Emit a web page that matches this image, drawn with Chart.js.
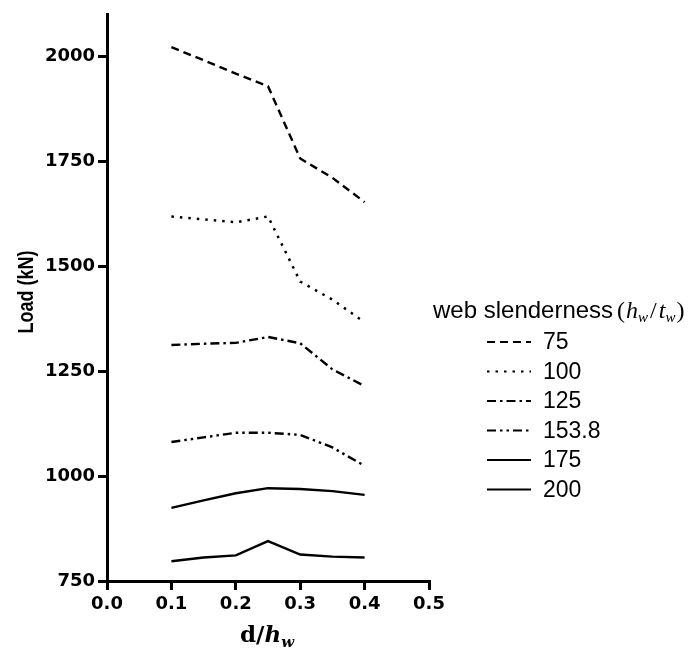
<!DOCTYPE html>
<html>
<head>
<meta charset="utf-8">
<script src="https://cdn.jsdelivr.net/npm/chart.js@4"></script>
<style>
  html, body { margin: 0; padding: 0; background: #fff; }
  #wrap { width: 699px; height: 648px; }
</style>
</head>
<body>
<div id="wrap"><canvas id="myChart" width="699" height="648"></canvas></div>
<script>
// d/hw ratios along the x axis
var ratios = [0.1, 0.15, 0.2, 0.25, 0.3, 0.35, 0.4];

// load (kN) per web slenderness
var load75 = [2021, 1990, 1958, 1928, 1756, 1710, 1652];
var load100 = [1618, 1611, 1604, 1618, 1463, 1420, 1366];
var load125 = [1312, 1315, 1317, 1331, 1316, 1254, 1214];
var load153 = [1081, 1092, 1103, 1103, 1098, 1068, 1024];
var load175 = [924, 942, 959, 971, 969, 964, 955];
var load200 = [797, 806, 811, 845, 813, 808, 806];

var seriesNames = ['75', '100', '125', '153.8', '175', '200'];
var yTicks = [750, 1000, 1250, 1500, 1750, 2000];
var xTicks = [0.0, 0.1, 0.2, 0.3, 0.4, 0.5];

function pts(values) {
    var out = [];
    values.forEach((v, i) => out.push({x: ratios[i], y: v}));
    return out;
}

var dashes = [[8, 5], [2.5, 6], [9, 4, 2.5, 4], [9, 4, 2.5, 4, 2.5, 4], [], []];
var allLoads = [load75, load100, load125, load153, load175, load200];

var datasets = [];
allLoads.forEach((vals, i) => datasets.push({
    label: seriesNames[i],
    data: pts(vals),
    borderColor: '#000',
    backgroundColor: '#000',
    borderWidth: i == 1 ? 2.5 : 2.4,
    borderDash: dashes[i],
    pointRadius: 0,
    tension: 0,
    fill: false
}));

// axis titles and the line-style legend
var extras = {
    id: 'extras',
    afterDraw(chart) {
        var ctx = chart.ctx;
        ctx.save();
        ctx.fillStyle = '#000';

        // y title
        ctx.save();
        ctx.translate(27, 292);
        ctx.rotate(-Math.PI / 2);
        ctx.scale(0.82, 1);
        ctx.font = 'bold 22px "Liberation Sans", Arial, sans-serif';
        ctx.textAlign = 'center';
        ctx.textBaseline = 'middle';
        ctx.fillText('Load (kN)', 0, 0);
        ctx.restore();

        // x title  d/h_w
        ctx.textBaseline = 'alphabetic';
        ctx.textAlign = 'left';
        var bx = 240, by = 642;
        ctx.font = 'bold 23px "DejaVu Serif", "Liberation Serif", serif';
        ctx.fillText('d/', bx, by);
        bx += ctx.measureText('d/').width;
        ctx.font = 'italic bold 23px "DejaVu Serif", "Liberation Serif", serif';
        ctx.fillText('h', bx, by);
        bx += ctx.measureText('h').width;
        ctx.font = 'italic bold 15px "DejaVu Serif", "Liberation Serif", serif';
        ctx.fillText('w', bx, by + 5);

        // legend title
        ctx.font = '24px "Liberation Sans", Arial, sans-serif';
        ctx.fillText('web slenderness', 433, 318);
        var tx = 433 + ctx.measureText('web slenderness').width + 4;
        var big = '24px "Liberation Serif", serif';
        var bigIt = 'italic 24px "Liberation Serif", serif';
        var small = 'italic 15px "Liberation Serif", serif';
        var parts = [['(', big, 0, 1], ['h', bigIt, 0, 0], ['w', small, 4, 2], ['/', big, 0, 2],
                     ['t', bigIt, 0, 0], ['w', small, 4, 1], [')', big, 0, 0]];
        parts.forEach(p => {
            ctx.font = p[1];
            ctx.fillText(p[0], tx, 318 + p[2]);
            tx += ctx.measureText(p[0]).width + p[3];
        });

        // legend rows
        ctx.font = '23px "Liberation Sans", Arial, sans-serif';
        ctx.textBaseline = 'middle';
        chart.data.datasets.forEach((ds, i) => {
            var y = 342 + i * 29.5;
            ctx.beginPath();
            ctx.setLineDash(ds.borderDash);
            ctx.lineWidth = 2.2;
            ctx.strokeStyle = '#000';
            ctx.moveTo(487, y);
            ctx.lineTo(531, y);
            ctx.stroke();
            ctx.setLineDash([]);
            ctx.fillText(ds.label, 543, y + 1);
        });
        ctx.restore();
    }
};

var ctx = document.getElementById('myChart').getContext('2d');
var chart = new Chart(ctx, {
    type: 'line',
    data: { datasets: datasets },
    plugins: [extras],
    options: {
        responsive: false,
        animation: false,
        layout: { padding: { top: 14, right: 270, left: 0, bottom: 0 } },
        plugins: { legend: { display: false }, tooltip: { enabled: false } },
        scales: {
            x: {
                type: 'linear',
                min: 0,
                max: 0.5,
                afterFit: s => { s.height = 67; },
                afterBuildTicks: s => { s.ticks = xTicks.map(v => ({value: v})); },
                border: { color: '#000', width: 3 },
                grid: { drawOnChartArea: false, color: '#000', lineWidth: 3, tickLength: 9 },
                ticks: {
                    color: '#000',
                    padding: 4,
                    maxRotation: 0,
                    font: { family: '"DejaVu Sans", sans-serif', weight: 'bold', size: 18 },
                    callback: v => Number(v).toFixed(1)
                }
            },
            y: {
                min: 750,
                max: 2100,
                afterFit: s => { s.width = 107; },
                afterBuildTicks: s => { s.ticks = yTicks.map(v => ({value: v})); },
                border: { color: '#000', width: 3 },
                grid: { drawOnChartArea: false, color: '#000', lineWidth: 3, tickLength: 9 },
                ticks: {
                    color: '#000',
                    padding: 3,
                    font: { family: '"DejaVu Sans", sans-serif', weight: 'bold', size: 18 },
                    callback: v => String(v)
                }
            }
        }
    }
});
</script>
</body>
</html>
